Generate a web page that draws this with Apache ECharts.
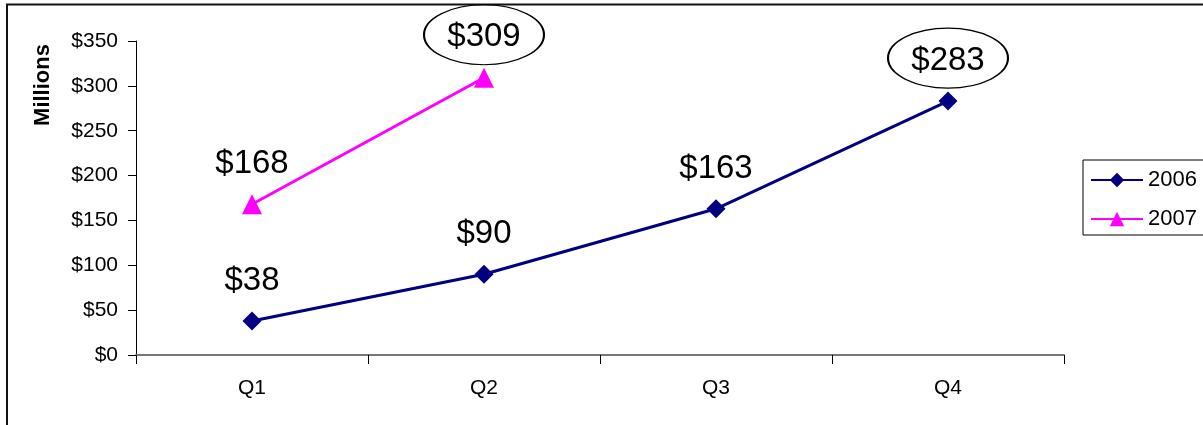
<!DOCTYPE html>
<html>
<head>
<meta charset="utf-8">
<script src="https://cdn.jsdelivr.net/npm/echarts@6/dist/echarts.min.js"></script>
<style>
  html, body { margin: 0; padding: 0; background: #fff; }
  #chart { width: 1203px; height: 425px; }
</style>
</head>
<body>
<div id="chart"></div>
<script>
// Quarterly figures, in millions of dollars
const quarters = ['Q1', 'Q2', 'Q3', 'Q4'];
const sales2006 = [38, 90, 163, 283];
const sales2007 = [168, 309];
const seriesNames = ['2006', '2007'];
const yMin = 0, yMax = 350, yStep = 50;

const FONT = "'Liberation Sans', Arial, sans-serif";
const money = v => '$' + v;

// Ellipse outline used to ring the peak value of each year
const ELLIPSE = 'path://M0,50 A100,50 0 1,1 200,50 A100,50 0 1,1 0,50 Z';

function peakRing() {
  return {
    symbol: ELLIPSE,
    symbolSize: [120, 60],
    symbolOffset: [0, -43],
    silent: true,
    itemStyle: { color: 'rgba(0,0,0,0)', borderColor: '#000', borderWidth: 1.5 },
    label: { show: false },
    data: [{ type: 'max' }]
  };
}

function valueLabel() {
  return {
    show: true,
    position: 'top',
    distance: 14,
    fontFamily: FONT,
    fontSize: 33,
    color: '#000',
    formatter: p => money(p.value)
  };
}

const chart = echarts.init(document.getElementById('chart'), null, { renderer: 'canvas' });

chart.setOption({
  animation: false,
  backgroundColor: '#fff',
  textStyle: { fontFamily: FONT },
  grid: { left: 136, right: 139, top: 41, bottom: 70, containLabel: false, outerBoundsMode: 'none' },
  graphic: [
    {
      type: 'rect',
      shape: { x: 7, y: 4.5, width: 1400, height: 600 },
      style: { fill: 'none', stroke: '#111', lineWidth: 2 },
      silent: true,
      z: -1
    },
    {
      type: 'text',
      x: 43,
      y: 85,
      rotation: Math.PI / 2,
      style: {
        text: 'Millions',
        font: 'bold 22px ' + FONT,
        fill: '#000',
        align: 'center',
        verticalAlign: 'middle'
      },
      silent: true
    }
  ],
  legend: {
    orient: 'vertical',
    left: 1083,
    top: 160,
    padding: [9, 8, 5, 7],
    itemWidth: 52,
    itemHeight: 18,
    itemGap: 17,
    borderColor: '#000',
    borderWidth: 1,
    backgroundColor: '#fff',
    textStyle: { fontFamily: FONT, fontSize: 22, color: '#000' },
    data: seriesNames
  },
  xAxis: {
    type: 'category',
    data: quarters,
    boundaryGap: true,
    axisLine: { lineStyle: { color: '#777', width: 2 } },
    axisTick: { show: true, length: 9, lineStyle: { color: '#000', width: 1 } },
    axisLabel: { margin: 23, fontFamily: FONT, fontSize: 21, color: '#000' },
    splitLine: { show: false }
  },
  yAxis: {
    type: 'value',
    min: yMin,
    max: yMax,
    interval: yStep,
    axisLine: { show: true, lineStyle: { color: '#000', width: 1 } },
    axisTick: { show: true, length: 8, lineStyle: { color: '#000' } },
    axisLabel: { margin: 18, fontFamily: FONT, fontSize: 21, color: '#000', formatter: money },
    splitLine: { show: false }
  },
  series: [
    {
      name: seriesNames[0],
      type: 'line',
      data: sales2006,
      symbol: 'diamond',
      symbolSize: 19,
      color: '#000080',
      lineStyle: { color: '#000080', width: 3 },
      itemStyle: { color: '#000080' },
      label: valueLabel(),
      markPoint: peakRing(),
      z: 3
    },
    {
      name: seriesNames[1],
      type: 'line',
      data: sales2007,
      symbol: 'triangle',
      symbolSize: 20,
      color: '#FF00FF',
      lineStyle: { color: '#FF00FF', width: 3 },
      itemStyle: { color: '#FF00FF' },
      label: valueLabel(),
      markPoint: peakRing(),
      z: 3
    }
  ]
});
</script>
</body>
</html>
